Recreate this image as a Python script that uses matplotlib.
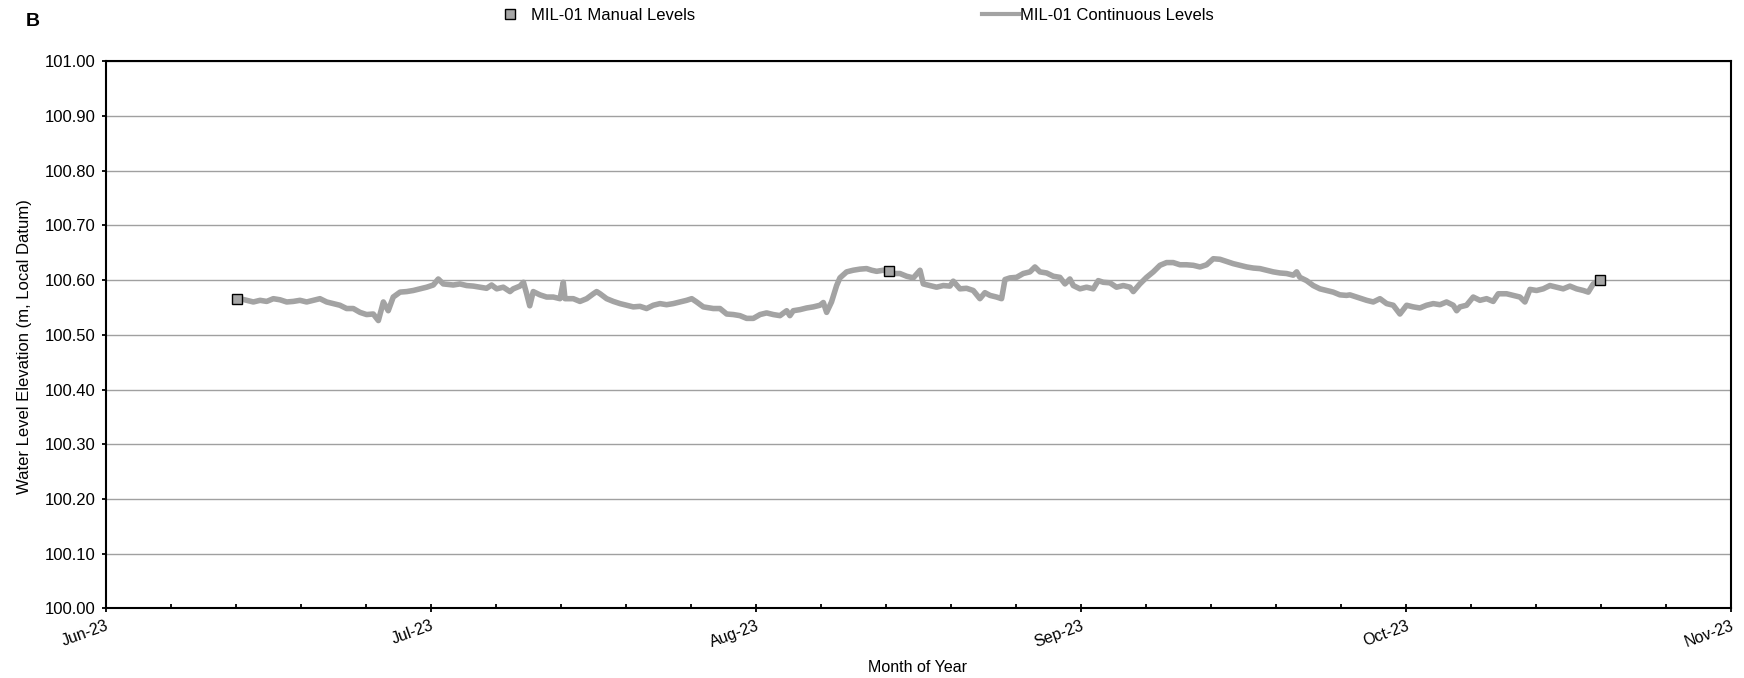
import matplotlib
matplotlib.use("Agg")
import matplotlib.pyplot as plt
from matplotlib.lines import Line2D
from matplotlib.ticker import MultipleLocator, FixedLocator, FixedFormatter

plt.rcParams['font.family'] = ['Liberation Sans', 'DejaVu Sans']

# Elapsed days since 1 June 2023 and logged water level (m, local datum)
logger_days = [
    12.65, 13.27, 13.90, 14.53, 15.16, 15.78, 16.41, 17.04, 17.66, 18.29,
    18.92, 19.54, 20.17, 20.80, 21.43, 22.05, 22.68, 23.31, 23.94, 24.56,
    25.19, 25.67, 26.14, 26.60, 27.07, 27.71, 28.34, 28.96, 29.59, 30.22,
    30.84, 31.31, 31.78, 32.72, 33.35, 33.98, 34.61, 35.24, 35.86, 36.33,
    36.81, 37.43, 38.06, 38.37, 39.00, 39.33, 39.63, 39.92, 40.25, 40.88,
    41.51, 42.14, 42.77, 43.08, 43.24, 44.02, 44.65, 45.28, 45.91, 46.22,
    46.54, 47.16, 47.79, 48.42, 49.04, 49.67, 50.30, 50.92, 51.55, 52.18,
    52.80, 53.43, 54.06, 54.69, 55.17, 55.63, 56.26, 57.20, 57.83, 58.46,
    59.09, 59.71, 60.34, 60.97, 61.60, 62.22, 62.85, 63.48, 64.11, 64.41,
    64.73, 65.36, 65.98, 66.61, 67.24, 67.56, 67.87, 68.33, 68.81, 69.12,
    69.75, 70.37, 71.00, 71.63, 72.11, 72.58, 73.20, 73.71, 74.30, 74.77,
    75.40, 76.03, 76.66, 76.97, 77.59, 78.22, 78.85, 79.48, 79.79, 80.42,
    81.04, 81.67, 82.30, 82.77, 83.25, 83.87, 84.34, 84.66, 85.13, 85.75,
    86.38, 87.01, 87.48, 87.95, 88.58, 89.21, 89.83, 90.31, 90.77, 91.09,
    91.72, 92.34, 92.97, 93.44, 93.91, 94.54, 95.16, 95.80, 96.43, 96.74,
    97.36, 97.99, 98.62, 99.25, 99.87, 100.50, 101.13, 101.75, 102.39, 103.02,
    103.64, 104.27, 104.90, 105.53, 106.15, 106.78, 107.41, 108.04, 108.66, 109.29,
    109.92, 110.54, 111.17, 111.80, 112.12, 112.42, 113.05, 113.68, 114.31, 114.93,
    115.56, 116.19, 116.81, 117.13, 117.44, 118.08, 118.71, 119.33, 119.96, 120.59,
    121.21, 121.84, 122.47, 123.10, 123.72, 124.35, 124.98, 125.61, 126.23, 126.86,
    127.18, 127.49, 128.11, 128.74, 129.37, 130.00, 130.62, 131.10, 131.88, 132.50,
    133.14, 133.61, 134.08, 134.70, 135.33, 135.96, 136.59, 137.21, 137.84, 138.47,
    139.10, 139.57, 140.04, 140.51,
]
logger_levels = [
    100.566, 100.563, 100.560, 100.563, 100.561, 100.566, 100.564, 100.560, 100.561, 100.563,
    100.560, 100.563, 100.566, 100.560, 100.557, 100.554, 100.548, 100.548, 100.541, 100.537,
    100.538, 100.526, 100.560, 100.544, 100.569, 100.578, 100.579, 100.581, 100.584, 100.587,
    100.591, 100.602, 100.593, 100.591, 100.593, 100.590, 100.589, 100.587, 100.585, 100.591,
    100.584, 100.587, 100.579, 100.584, 100.589, 100.596, 100.575, 100.553, 100.579, 100.573,
    100.569, 100.569, 100.566, 100.596, 100.566, 100.566, 100.561, 100.566, 100.575, 100.579,
    100.575, 100.566, 100.561, 100.557, 100.554, 100.551, 100.552, 100.548, 100.554, 100.557,
    100.555, 100.557, 100.560, 100.563, 100.566, 100.560, 100.551, 100.548, 100.548, 100.538,
    100.537, 100.535, 100.530, 100.530, 100.537, 100.540, 100.537, 100.535, 100.544, 100.535,
    100.544, 100.546, 100.549, 100.551, 100.554, 100.559, 100.541, 100.560, 100.590, 100.604,
    100.615, 100.618, 100.620, 100.621, 100.618, 100.616, 100.618, 100.615, 100.612, 100.612,
    100.607, 100.604, 100.618, 100.593, 100.590, 100.587, 100.590, 100.589, 100.598, 100.584,
    100.585, 100.581, 100.566, 100.577, 100.572, 100.569, 100.566, 100.601, 100.604, 100.605,
    100.612, 100.615, 100.624, 100.615, 100.613, 100.607, 100.605, 100.593, 100.602, 100.590,
    100.584, 100.587, 100.584, 100.599, 100.596, 100.595, 100.587, 100.590, 100.587, 100.579,
    100.593, 100.605, 100.615, 100.627, 100.632, 100.632, 100.628, 100.628, 100.627, 100.624,
    100.628, 100.639, 100.638, 100.634, 100.630, 100.627, 100.624, 100.622, 100.621, 100.618,
    100.615, 100.613, 100.612, 100.609, 100.615, 100.605, 100.599, 100.590, 100.584, 100.581,
    100.578, 100.573, 100.572, 100.573, 100.571, 100.567, 100.563, 100.560, 100.566, 100.557,
    100.554, 100.538, 100.554, 100.551, 100.549, 100.554, 100.557, 100.555, 100.560, 100.554,
    100.544, 100.551, 100.554, 100.569, 100.563, 100.566, 100.561, 100.575, 100.575, 100.572,
    100.569, 100.560, 100.583, 100.581, 100.584, 100.590, 100.587, 100.584, 100.589, 100.584,
    100.581, 100.578, 100.593, 100.598,
]

# Manual (tape) measurements
manual_days = [12.39, 73.71, 140.67]
manual_levels = [100.566, 100.616, 100.601]

month_labels = ["Jun-23", "Jul-23", "Aug-23", "Sep-23", "Oct-23", "Nov-23"]
axis_span_days = 153.0
y_min, y_max, y_step = 100.00, 101.00, 0.10

line_grey = "#A3A3A3"

fig = plt.figure(figsize=(17.44, 6.78), dpi=100)
ax = fig.add_axes([0.0606, 0.1027, 0.9319, 0.8070])

ax.plot(logger_days, logger_levels, color=line_grey, lw=4.0,
        solid_joinstyle="round", zorder=3)
ax.plot(manual_days, manual_levels, ls="none", marker="s", ms=7,
        mfc="#A6A6A6", mec="black", mew=1.0, zorder=4)

ax.set_xlim(0, axis_span_days)
ax.set_ylim(y_min, y_max)

major_step = axis_span_days / (len(month_labels) - 1)
ax.xaxis.set_major_locator(FixedLocator([i * major_step for i in range(len(month_labels))]))
ax.xaxis.set_major_formatter(FixedFormatter(month_labels))
ax.xaxis.set_minor_locator(MultipleLocator(major_step / 5))
ax.yaxis.set_major_locator(MultipleLocator(y_step))
ax.yaxis.set_major_formatter(plt.FuncFormatter(lambda v, p: f"{v:.2f}"))

ax.grid(axis="y", color="#A0A0A0", lw=1.0)
ax.set_axisbelow(True)

for s in ax.spines.values():
    s.set_color("black")
    s.set_linewidth(1.5)

ax.tick_params(axis="x", which="major", direction="inout", length=6, width=1.3,
               labelsize=11.5, pad=4)
ax.tick_params(axis="x", which="minor", direction="in", length=3, width=1.3)
ax.tick_params(axis="y", which="major", direction="out", length=3, width=1.3,
               labelsize=12, pad=4)
for lbl in ax.get_xticklabels():
    lbl.set_rotation(20)
    lbl.set_ha("right")
    lbl.set_rotation_mode("anchor")

ax.set_ylabel("Water Level Elevation (m, Local Datum)", fontsize=12)
ax.yaxis.set_label_coords(-0.0453, 0.478)
fig.text(917 / 1744, 1 - 668 / 678, "Month of Year", ha="center", va="center",
         fontsize=11.5)
fig.text(26 / 1744, 1 - 22 / 678, "B", ha="left", va="center", fontsize=14,
         fontweight="bold")

manual_handle = Line2D([], [], ls="none", marker="s", ms=7, mfc="#A6A6A6",
                       mec="black", mew=1.0)
logger_handle = Line2D([], [], color=line_grey, lw=3.0)

fig.legend([manual_handle], ["MIL-01 Manual Levels"], loc="center left",
           bbox_to_anchor=(502 / 1744, 1 - 15.5 / 678), frameon=False,
           fontsize=12, handlelength=1.0, handletextpad=0.75,
           borderpad=0, borderaxespad=0)
fig.legend([logger_handle], ["MIL-01 Continuous Levels"], loc="center left",
           bbox_to_anchor=(982 / 1744, 1 - 15.5 / 678), frameon=False,
           fontsize=12, handlelength=2.2, handletextpad=0.05,
           borderpad=0, borderaxespad=0)

fig.savefig("out.png", dpi=100)
